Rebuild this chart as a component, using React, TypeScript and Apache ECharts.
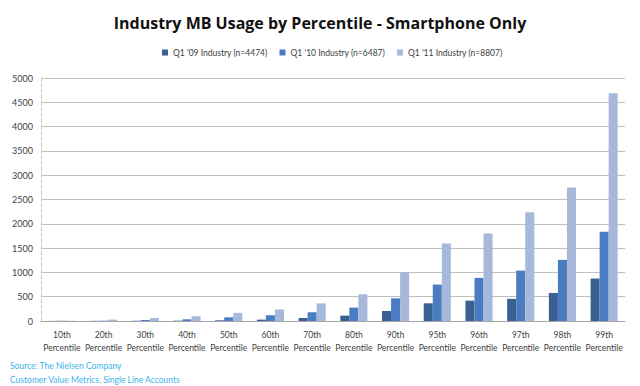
import React, { useEffect, useRef } from "react";
import * as echarts from "echarts";

const categories = ["10th", "20th", "30th", "40th", "50th", "60th", "70th", "80th", "90th", "95th", "96th", "97th", "98th", "99th"];
const seriesNames = ["Q1 '09 Industry (n=4474)", "Q1 '10 Industry (n=6487)", "Q1 '11 Industry (n=8807)"];
const q109 = [2, 3, 5, 7, 14, 28, 62, 110, 206, 364, 419, 454, 577, 873];
const q110 = [3, 6, 21, 35, 76, 118, 180, 275, 467, 749, 887, 1037, 1258, 1836];
const q111 = [5, 28, 62, 97, 167, 236, 361, 550, 1000, 1596, 1801, 2240, 2747, 4685];
const yTicks = [0, 500, 1000, 1500, 2000, 2500, 3000, 3500, 4000, 4500, 5000];
const colors = ["#3A5F93", "#4A7CC1", "#A7B8DA"];
const font = "Lato, 'Open Sans', sans-serif";

export default function App() {
  const ref = useRef<HTMLDivElement>(null);
  useEffect(() => {
    if (!ref.current) return;
    const chart = echarts.init(ref.current, undefined, { renderer: "svg" });
    const data = [q109, q110, q111];
    chart.setOption({
      animation: false,
      backgroundColor: "#ffffff",
      textStyle: { fontFamily: font },
      title: {
        text: "Industry MB Usage by Percentile - Smartphone Only",
        left: "center",
        top: 10,
        textStyle: { fontFamily: "'Open Sans', sans-serif", fontSize: 16, fontWeight: "bold", color: "#111111" },
      },
      legend: {
        top: 43,
        left: 157,
        itemWidth: 6,
        itemHeight: 6,
        itemGap: 12,
        icon: "rect",
        textStyle: { fontFamily: font, fontSize: 8.5, color: "#404040" },
        data: seriesNames,
      },
      grid: { left: 41, right: 15, top: 78, bottom: 65, containLabel: false },
      xAxis: {
        type: "category",
        data: categories,
        axisLine: { lineStyle: { color: "#A6A6A6" } },
        axisTick: { show: false },
        axisLabel: {
          interval: 0,
          fontFamily: font,
          fontSize: 8.5,
          color: "#404040",
          lineHeight: 13,
          margin: 7,
          formatter: (v: string) => v + "\nPercentile",
        },
      },
      yAxis: {
        type: "value",
        min: 0,
        max: 5000,
        interval: 500,
        axisLine: { show: true, lineStyle: { color: "#C8C8C8", type: "dashed" } },
        axisTick: { show: false },
        splitLine: { lineStyle: { color: "#BFBFBF" } },
        axisLabel: {
          fontFamily: font,
          fontSize: 9,
          color: "#404040",
          margin: 8,
          formatter: (v: number) => (yTicks.includes(v) ? String(v) : ""),
        },
      },
      series: seriesNames.map((name, i) => ({
        name,
        type: "bar",
        data: data[i],
        barGap: "0%",
        barCategoryGap: "35%",
        itemStyle: { color: colors[i] },
      })),
      graphic: [
        {
          type: "text",
          left: 10,
          top: 361,
          style: { text: "Source: The Nielsen Company", fill: "#3CB4EC", fontFamily: font, fontSize: 8.5 },
        },
        {
          type: "text",
          left: 10,
          top: 375,
          style: { text: "Customer Value Metrics, Single Line Accounts", fill: "#3CB4EC", fontFamily: font, fontSize: 8.5 },
        },
      ],
    });
    return () => chart.dispose();
  }, []);
  return <div ref={ref} style={{ width: 640, height: 386, position: "absolute", left: 0, top: 0 }} />;
}
